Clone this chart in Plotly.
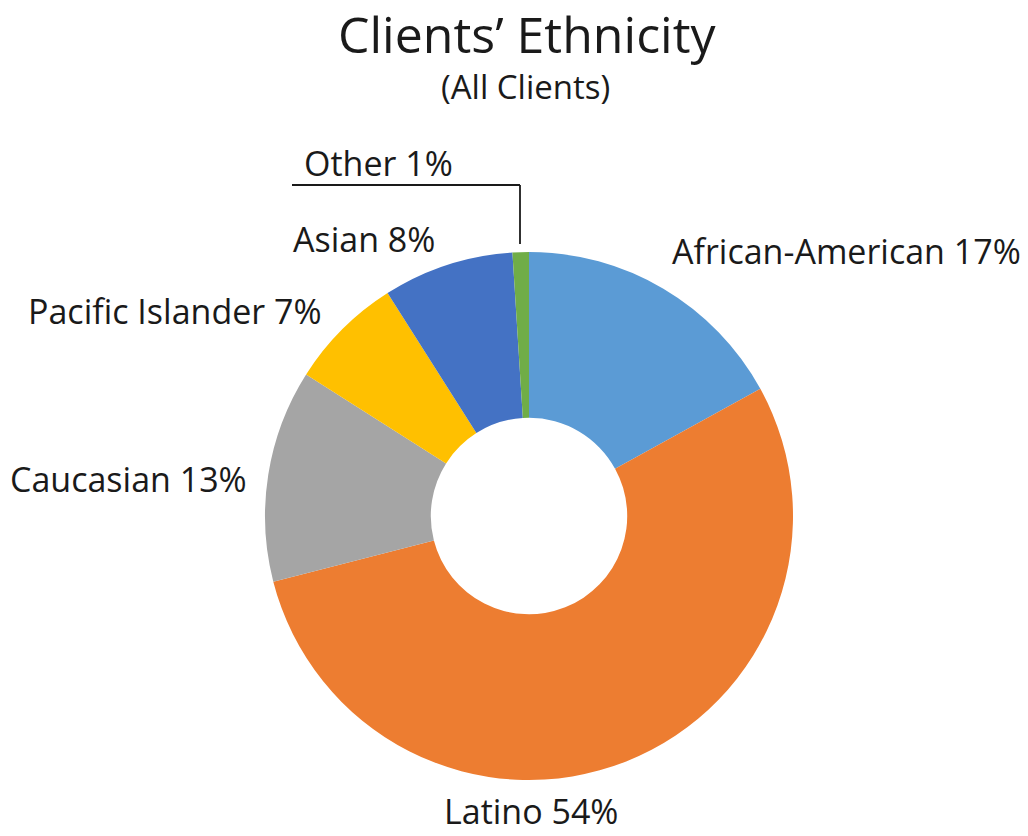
import plotly.graph_objects as go

# Client ethnicity breakdown (percent of all clients)
ethnicities = ["African-American", "Latino", "Caucasian", "Pacific Islander", "Asian", "Other"]
shares = [17, 54, 13, 7, 8, 1]
slice_colors = ["#5B9BD5", "#ED7D31", "#A5A5A5", "#FFC000", "#4472C4", "#70AD47"]

W, H = 1028, 836
FONT = "Open Sans"
INK = "#1a1a1a"

# Outside label anchors in pixels: (x, y, xanchor, yanchor)
label_pos = {
    "African-American": (670, 251, "left", "middle"),
    "Latino": (531, 836, "center", "bottom"),
    "Caucasian": (128, 479, "center", "middle"),
    "Pacific Islander": (175, 311, "center", "middle"),
    "Asian": (364, 239, "center", "middle"),
    "Other": (378, 163, "center", "middle"),
}


def px(x, y):
    return x / W, 1 - y / H


# Donut geometry (pixels)
cx, cy, r = 529, 516, 264
x0, y1 = px(cx - r, cy - r)
x1, y0 = px(cx + r, cy + r)

fig = go.Figure(
    go.Pie(
        labels=ethnicities,
        values=shares,
        marker=dict(colors=slice_colors, line=dict(width=0)),
        hole=0.372,
        sort=False,
        direction="clockwise",
        rotation=0,
        textinfo="none",
        hoverinfo="label+percent",
        showlegend=False,
        domain=dict(x=[x0, x1], y=[y0, y1]),
    )
)

annotations = [
    dict(text="Clients’ Ethnicity", x=px(527, 34)[0], y=px(527, 34)[1],
         font=dict(size=50, color=INK, family=FONT)),
    dict(text="(All Clients)", x=px(525, 86)[0], y=px(525, 86)[1],
         font=dict(size=33, color=INK, family=FONT)),
]
for name, val in zip(ethnicities, shares):
    lx, ly, xa, ya = label_pos[name]
    ax_, ay_ = px(lx, ly)
    annotations.append(dict(text=f"{name} {val}%", x=ax_, y=ay_, xanchor=xa, yanchor=ya,
                            font=dict(size=34, color=INK, family=FONT)))
for a in annotations:
    a.update(xref="paper", yref="paper", showarrow=False)
    a.setdefault("xanchor", "center")
    a.setdefault("yanchor", "middle")

# Leader line for the small "Other" slice
lx0, ly0 = px(292, 185)
lx1, _ = px(520, 185)
_, ly2 = px(520, 244)
line_style = dict(color=INK, width=1.8)
shapes = [
    dict(type="line", xref="paper", yref="paper", x0=lx0, y0=ly0, x1=lx1, y1=ly0, line=line_style),
    dict(type="line", xref="paper", yref="paper", x0=lx1, y0=ly0, x1=lx1, y1=ly2, line=line_style),
]

fig.update_layout(
    width=W,
    height=H,
    margin=dict(l=0, r=0, t=0, b=0),
    paper_bgcolor="white",
    plot_bgcolor="white",
    annotations=annotations,
    shapes=shapes,
)

fig.write_html("out.html")
